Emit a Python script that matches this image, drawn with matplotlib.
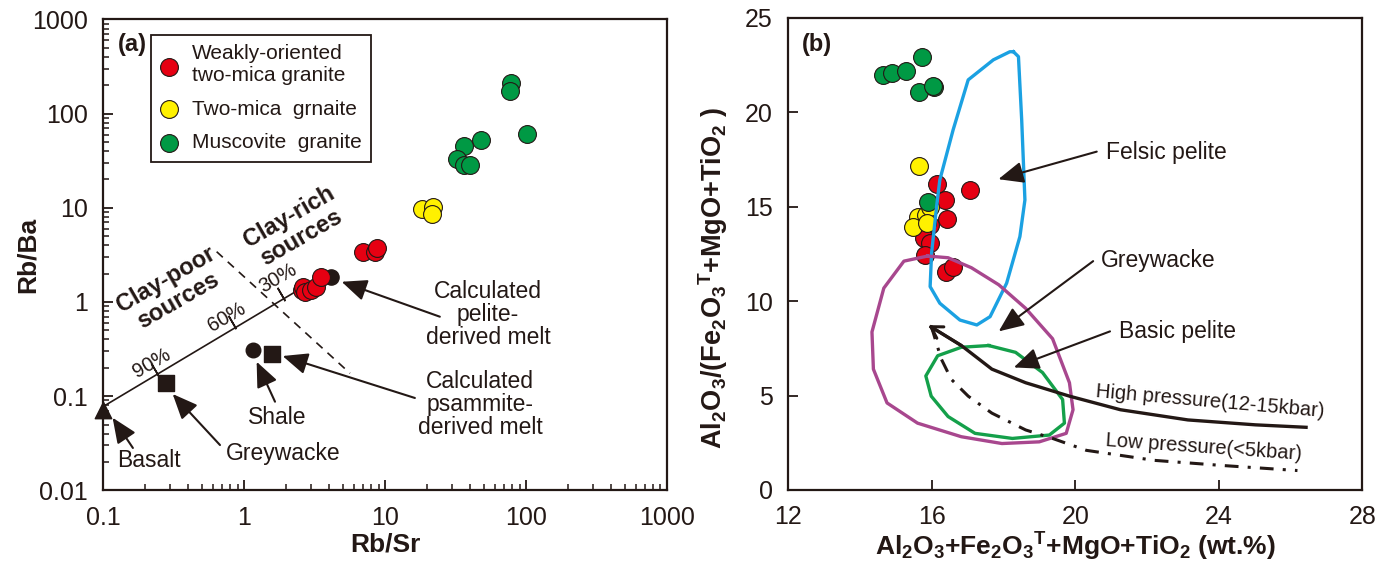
import matplotlib.pyplot as plt
import numpy as np
from matplotlib.ticker import LogLocator, NullFormatter

plt.rcParams['font.family'] = ['Liberation Sans', 'DejaVu Sans']
plt.rcParams['mathtext.default'] = 'regular'

INK = '#231815'
RED = '#E60012'
YEL = '#FFF100'
GRN = '#009944'

# ---------------- panel (a): Rb/Sr vs Rb/Ba ----------------
red_rbsr = [2.56, 2.62, 2.71, 2.97, 3.24, 3.50, 6.98, 8.49, 8.77]
red_rbba = [1.34, 1.45, 1.29, 1.34, 1.45, 1.86, 3.42, 3.40, 3.77]
yel_rbsr = [18.2, 21.8, 21.7]
yel_rbba = [9.78, 10.3, 8.66]
grn_rbsr = [77.8, 77.1, 101.6, 48.0, 36.3, 32.4, 36.3, 40.1]
grn_rbba = [213, 175, 60.7, 52.5, 45.3, 33.0, 28.5, 28.5]

pelite_melt = (4.12, 1.83)
shale = (1.15, 0.309)
psammite_melt = (1.57, 0.281)
greywacke = (0.280, 0.137)
basalt = (0.1, 0.071)

mix_rbsr = [0.1, 2.49]
mix_rbba = [0.0774, 1.37]
mix_tick_rbsr = [0.234, 0.818, 1.82]
mix_tick_rbba = [0.189, 0.614, 1.23]
mix_pct = ['90%', '60%', '30%']
mix_pct_pos = [(0.221, 0.224), (0.754, 0.698), (1.74, 1.80)]
divide_rbsr = [0.640, 5.65]
divide_rbba = [3.42, 0.175]

# ---------------- panel (b): A/(FMT) vs A+FMT ----------------
b_red_x = [16.16, 17.07, 16.38, 16.42, 15.96, 15.79, 15.97, 15.82, 16.39, 16.59]
b_red_y = [16.21, 15.87, 15.36, 14.34, 14.04, 13.33, 13.10, 12.45, 11.53, 11.80]
b_yel_x = [15.66, 15.63, 15.84, 15.49, 15.97, 15.86]
b_yel_y = [17.18, 14.48, 14.57, 13.95, 15.01, 14.13]
b_grn_x = [15.72, 14.65, 14.89, 15.29, 15.66, 16.08, 16.05, 15.89]
b_grn_y = [22.92, 21.98, 22.10, 22.21, 21.06, 21.35, 21.40, 15.24]

felsic_x = [18.28, 18.42, 18.51, 18.60, 18.46, 18.09, 17.63, 17.26, 16.79,
            16.23, 15.96, 16.00, 16.14, 16.23, 16.60, 17.02, 17.72, 18.18, 18.28]
felsic_y = [23.21, 22.95, 19.60, 15.36, 13.42, 10.95, 9.18, 8.74, 9.00,
            9.89, 10.77, 12.54, 15.01, 16.42, 19.07, 21.72, 22.78, 23.21, 23.21]
greyw_x = [15.89, 15.23, 14.67, 14.34, 14.38, 14.76, 15.61, 16.83, 17.96,
           19.00, 19.75, 19.94, 19.84, 19.37, 18.62, 17.87, 17.11, 16.46, 15.89]
greyw_y = [12.39, 12.12, 10.69, 8.37, 6.40, 4.61, 3.54, 2.82, 2.46,
           2.55, 3.00, 4.25, 5.68, 8.01, 9.62, 10.87, 11.77, 12.30, 12.39]
basic_x = [17.59, 16.83, 16.17, 15.84, 15.99, 16.46, 17.21, 18.25, 19.28,
           19.70, 19.65, 19.09, 18.34, 17.59]
basic_y = [7.65, 7.56, 7.11, 6.04, 4.97, 3.89, 3.00, 2.73, 2.91,
           3.54, 4.79, 6.22, 7.29, 7.65]
hp_x = [15.99, 16.83, 17.68, 18.62, 19.84, 21.26, 23.14, 25.02, 26.43]
hp_y = [8.63, 7.65, 6.40, 5.68, 4.97, 4.25, 3.71, 3.45, 3.32]
lp_x = [15.99, 16.27, 16.55, 17.02, 17.68, 18.62, 19.37, 20.31, 22.20, 24.08, 26.19]
lp_y = [8.69, 6.94, 5.86, 4.97, 4.07, 3.18, 2.73, 2.10, 1.57, 1.30, 1.03]

fig = plt.figure(figsize=(13.86, 5.66), dpi=100)
axa = fig.add_axes([0.0743, 0.1336, 0.4069, 0.8321])
axb = fig.add_axes([0.5685, 0.1343, 0.4145, 0.834])

arrow_kw = dict(arrowstyle='-|>,head_length=0.7,head_width=0.3', color=INK,
                lw=1.5, mutation_scale=22, shrinkA=0, shrinkB=0)
txt = dict(fontsize=16.5, color=INK, ha='center', va='center')

# panel (a)
axa.plot(mix_rbsr, mix_rbba, color=INK, lw=1.2, zorder=2)
axa.plot(mix_tick_rbsr, mix_tick_rbba, ls='none', marker=(2, 2, 30), ms=11,
         mec=INK, mew=1.2, zorder=2)
axa.plot(divide_rbsr, divide_rbba, color=INK, lw=1.2, dashes=(5, 4), zorder=2)
for p, (px, py) in zip(mix_pct, mix_pct_pos):
    axa.text(px, py, p, fontsize=14.5, color=INK, rotation=30,
             rotation_mode='anchor', ha='center', va='center')

axa.scatter(*pelite_melt, s=120, color=INK, zorder=3)
axa.scatter(*shale, s=110, color=INK, zorder=3)
axa.scatter(*psammite_melt, s=140, marker='s', color=INK, zorder=3)
axa.scatter(*greywacke, s=140, marker='s', color=INK, zorder=3)
axa.scatter(*basalt, s=140, marker='^', color=INK, zorder=3, clip_on=False)

h_red = axa.scatter(red_rbsr, red_rbba, s=165, c=RED, edgecolors=INK, linewidths=0.8, zorder=4)
h_yel = axa.scatter(yel_rbsr, yel_rbba, s=165, c=YEL, edgecolors=INK, linewidths=0.8, zorder=4)
h_grn = axa.scatter(grn_rbsr, grn_rbba, s=165, c=GRN, edgecolors=INK, linewidths=0.8, zorder=4)

axa.text(0.308, 1.34, 'Clay-poor\nsources', fontsize=17, fontweight='bold', color=INK,
         rotation=30, rotation_mode='anchor', ha='center', va='center', linespacing=1.05)
axa.text(2.30, 6.25, 'Clay-rich\nsources', fontsize=17, fontweight='bold', color=INK,
         rotation=30, rotation_mode='anchor', ha='center', va='center', linespacing=1.05)

axa.annotate('', xy=(4.93, 1.64), xytext=(24.5, 0.698), arrowprops=arrow_kw)
axa.annotate('', xy=(1.88, 0.267), xytext=(16.3, 0.0957), arrowprops=arrow_kw)
axa.annotate('', xy=(1.23, 0.232), xytext=(1.66, 0.0874), arrowprops=arrow_kw)
axa.annotate('', xy=(0.312, 0.1055), xytext=(0.676, 0.0303), arrowprops=arrow_kw)
axa.annotate('', xy=(0.117, 0.0591), xytext=(0.163, 0.0282), arrowprops=arrow_kw)
axa.text(53.7, 0.728, 'Calculated\npelite-\nderived melt', linespacing=1.0, **txt)
axa.text(47.2, 0.0826, 'Calculated\npsammite-\nderived melt', linespacing=1.0, **txt)
axa.text(1.71, 0.0587, 'Shale', **txt)
axa.text(1.89, 0.0249, 'Greywacke', **txt)
axa.text(0.212, 0.0207, 'Basalt', **txt)
axa.text(0.053, 0.946, '(a)', transform=axa.transAxes, fontsize=17, fontweight='bold',
         color=INK, ha='center', va='center')

axa.set_xscale('log')
axa.set_yscale('log')
axa.set_xlim(0.1, 1000)
axa.set_ylim(0.01, 1000)
axa.set_xticks([0.1, 1, 10, 100, 1000], ['0.1', '1', '10', '100', '1000'])
axa.set_yticks([0.01, 0.1, 1, 10, 100, 1000], ['0.01', '0.1', '1', '10', '100', '1000'])
for ax_ in (axa.xaxis, axa.yaxis):
    ax_.set_minor_locator(LogLocator(base=10, subs=np.arange(2, 10)))
    ax_.set_minor_formatter(NullFormatter())
axa.set_xlabel('Rb/Sr', fontsize=19, fontweight='bold', color=INK, labelpad=2)
axa.set_ylabel('Rb/Ba', fontsize=19, fontweight='bold', color=INK)
axa.yaxis.set_label_coords(-0.112, 0.5)

leg = axa.legend([h_red, h_yel, h_grn],
                 ['Weakly-oriented\ntwo-mica granite', 'Two-mica  grnaite', 'Muscovite  granite'],
                 loc='upper left', bbox_to_anchor=(0.086, 0.967), borderaxespad=0,
                 fontsize=15, frameon=True, fancybox=False, framealpha=1,
                 edgecolor=INK, handlelength=0.8, handletextpad=0.7, labelspacing=0.7,
                 borderpad=0.45, scatterpoints=1)
leg.get_frame().set_linewidth(1.3)
for t in leg.get_texts():
    t.set_color(INK)

# panel (b)
axb.scatter(b_red_x, b_red_y, s=165, c=RED, edgecolors=INK, linewidths=0.8, zorder=3)
axb.scatter(b_yel_x, b_yel_y, s=165, c=YEL, edgecolors=INK, linewidths=0.8, zorder=3)
axb.scatter(b_grn_x, b_grn_y, s=165, c=GRN, edgecolors=INK, linewidths=0.8, zorder=3)

axb.plot(felsic_x, felsic_y, color='#1BA1E2', lw=2.4, solid_joinstyle='round', zorder=4)
axb.plot(greyw_x, greyw_y, color='#A8478E', lw=2.4, solid_joinstyle='round', zorder=4)
axb.plot(basic_x, basic_y, color='#14A04A', lw=2.4, solid_joinstyle='round', zorder=4)
axb.plot(hp_x, hp_y, color=INK, lw=2.4, solid_joinstyle='round', zorder=4)
axb.plot(lp_x, lp_y, color=INK, lw=2.2, dashes=(4.5, 3, 1, 3), zorder=4)
axb.annotate('', xy=(hp_x[0] - 0.08, hp_y[0] + 0.1), xytext=(hp_x[1], hp_y[1]),
             arrowprops=dict(arrowstyle='->,head_length=0.5,head_width=0.3', color=INK,
                             lw=2.2, mutation_scale=16, shrinkA=0, shrinkB=0), zorder=4)

axb.annotate('', xy=(17.86, 16.46), xytext=(20.6, 17.92), arrowprops=arrow_kw, zorder=5)
axb.annotate('', xy=(17.87, 8.40), xytext=(20.5, 12.12), arrowprops=arrow_kw, zorder=5)
axb.annotate('', xy=(18.29, 6.49), xytext=(20.97, 8.40), arrowprops=arrow_kw, zorder=5)
axb.text(22.53, 17.85, 'Felsic pelite', **txt)
axb.text(22.31, 12.18, 'Greywacke', **txt)
axb.text(22.86, 8.42, 'Basic pelite', **txt)
axb.text(23.75, 4.70, 'High pressure(12-15kbar)', fontsize=14.5, color=INK,
         rotation=-5, rotation_mode='anchor', ha='center', va='center')
axb.text(23.59, 2.28, 'Low pressure(<5kbar)', fontsize=14.5, color=INK,
         rotation=-4, rotation_mode='anchor', ha='center', va='center')
axb.text(0.05, 0.943, '(b)', transform=axb.transAxes, fontsize=17, fontweight='bold',
         color=INK, ha='center', va='center')

axb.set_xlim(12, 28)
axb.set_ylim(0, 25)
axb.set_xticks([12, 16, 20, 24, 28])
axb.set_yticks([0, 5, 10, 15, 20, 25])
axb.set_xlabel('Al$_2$O$_3$+Fe$_2$O$_3$$^T$+MgO+TiO$_2$ (wt.%)', fontsize=19,
               fontweight='bold', color=INK, labelpad=1)
axb.set_ylabel('Al$_2$O$_3$/(Fe$_2$O$_3$$^T$+MgO+TiO$_2$ )', fontsize=19.5,
               fontweight='bold', color=INK)
axb.yaxis.set_label_coords(-0.1, 0.45)

for ax in (axa, axb):
    for s in ax.spines.values():
        s.set_linewidth(1.6)
        s.set_color(INK)
    ax.tick_params(which='major', direction='in', length=7, width=1.3, labelsize=18,
                   pad=11, colors=INK, top=False, right=False)
    ax.tick_params(which='minor', direction='in', length=4, width=1.1, colors=INK,
                   top=False, right=False)

fig.savefig('out.png', dpi=100)
